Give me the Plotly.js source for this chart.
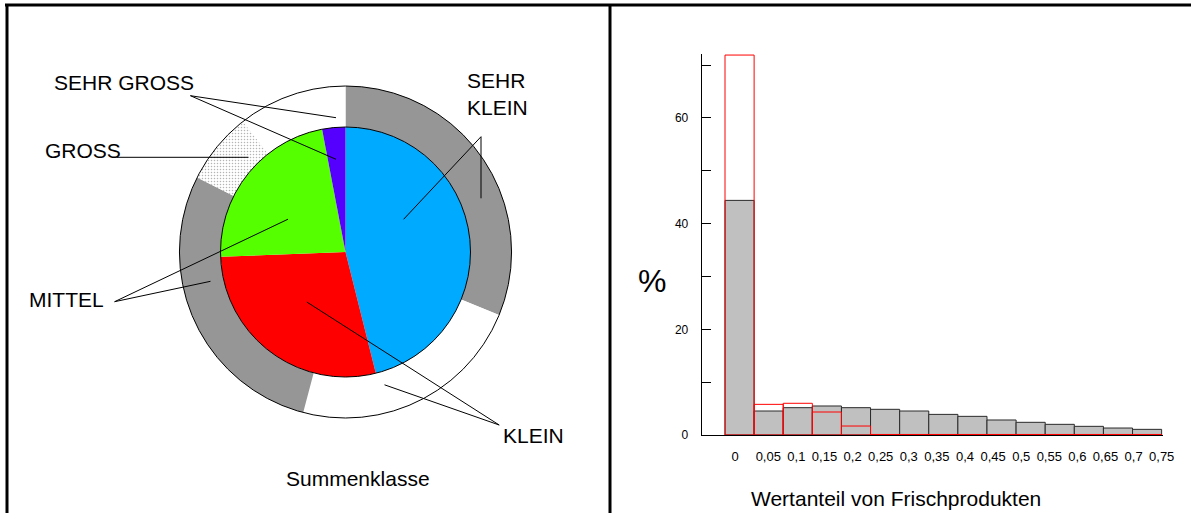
<!DOCTYPE html>
<html>
<head>
<meta charset="utf-8">
<script src="https://cdn.plot.ly/plotly-3.0.1.min.js"></script>
<style>
  html, body { margin: 0; padding: 0; background: #ffffff; }
  #chart { width: 1191px; height: 513px; }
</style>
</head>
<body>
<div id="chart"></div>
<script>
// ---------- data ----------
const categories = ['SEHR KLEIN', 'KLEIN', 'MITTEL', 'GROSS', 'SEHR GROSS'];
const innerShare = [46.1, 28.3, 22.6, 0, 3.0];      // inner pie
const outerShare = [31.2, 22.9, 28.3, 7.0, 10.6];   // outer ring (Summenklasse)

const binStart = [0, 0.05, 0.10, 0.15, 0.20, 0.25, 0.30, 0.35, 0.40, 0.45, 0.50, 0.55, 0.60, 0.65, 0.70];
const grayPct = [44.4, 4.54, 5.17, 5.49, 5.17, 4.86, 4.54, 3.90, 3.53, 2.84, 2.40, 2.02, 1.64, 1.32, 1.07];
const redPct  = [71.9, 5.8, 6.0, 4.35, 1.7, 0.1, 0.1, 0.1, 0.1, 0.1, 0.1, 0.1, 0.1, 0.1, 0.1];
const tickLabels = ['0', '0,05', '0,1', '0,15', '0,2', '0,25', '0,3', '0,35', '0,4', '0,45', '0,5', '0,55', '0,6', '0,65', '0,7', '0,75'];
const yTickValues = [0, 10, 20, 30, 40, 50, 60, 70];
const yTickLabels = ['0', '', '20', '', '40', '', '60', ''];

// ---------- layout helpers (pixel -> paper) ----------
const W = 1191, H = 513;
const px = x => x / W;
const py = y => 1 - y / H;
const FONT = 'Liberation Sans, Arial, Helvetica, sans-serif';

// pie geometry
const cx = 345.5, cy = 252, rOuter = 166, rInner = 125;
const dom = r => ({ x: [px(cx - r), px(cx + r)], y: [py(cy + r), py(cy - r)] });

const innerColors = ['#00aaff', '#ff0000', '#55ff00', '#ffffff', '#5500ff'];
const outerColors = ['#969696', '#ffffff', '#969696', '#ffffff', '#ffffff'];

const traces = [
  {
    type: 'pie', labels: categories, values: outerShare, sort: false, direction: 'clockwise',
    hole: rInner / rOuter, domain: dom(rOuter), textinfo: 'none', hoverinfo: 'none', showlegend: false,
    marker: { colors: outerColors, line: { width: 0 },
      pattern: { shape: ['', '', '', '.', ''], fgcolor: '#b4b4b4', bgcolor: '#ffffff', size: 3, solidity: 0.2 } }
  },
  {
    type: 'pie', labels: categories, values: innerShare, sort: false, direction: 'clockwise',
    domain: dom(rInner), textinfo: 'none', hoverinfo: 'none', showlegend: false,
    marker: { colors: innerColors, line: { width: 0 } }
  },
  { // outline circles of ring and pie
    type: 'pie', labels: ['Summenklasse'], values: [1], hole: rInner / rOuter, domain: dom(rOuter),
    textinfo: 'none', hoverinfo: 'none', showlegend: false,
    marker: { colors: ['rgba(0,0,0,0)'], line: { color: '#000000', width: 1 } }
  },
  {
    type: 'bar', x: binStart, y: grayPct, width: 0.05, offset: 0, hoverinfo: 'none', showlegend: false,
    marker: { color: '#c0c0c0', line: { color: '#2a2a2a', width: 1 } }
  },
  {
    type: 'bar', x: binStart, y: redPct, width: 0.05, offset: 0, hoverinfo: 'none', showlegend: false,
    marker: { color: 'rgba(0,0,0,0)', line: { color: '#ff0000', width: 1 } }
  }
];

// x axis: bar edge 725px <-> 0, 29.11 px per 0.05
const unitPx = 29.11 / 0.05;
const xLeftPx = 701.7, xMin = -(725 - xLeftPx) / unitPx, xMax = 0.752;
const xRightPx = xLeftPx + (xMax - xMin) * unitPx;
const xTickVals = tickLabels.map((t, k) => k === 0 ? (735 - 725) / unitPx : (768.3 - 725) / unitPx + (k - 1) * 28.1 / unitPx);

const lineShape = (x0, y0, x1, y1, w, c) => ({
  type: 'line', xref: 'paper', yref: 'paper', x0: px(x0), y0: py(y0), x1: px(x1), y1: py(y1),
  line: { color: c || '#000000', width: w || 1 }
});

const shapes = [
  // frame
  lineShape(5, 5, 1191, 5, 3),
  lineShape(7, 4, 7, 513, 3),
  lineShape(610, 4, 610, 513, 3),
  // leader lines
  lineShape(190.4, 95.7, 336, 117.7), lineShape(190.4, 95.7, 336, 159.3),
  lineShape(116.5, 157.3, 248.5, 157.3),
  lineShape(114.6, 301.7, 288, 219.2), lineShape(114.6, 301.7, 210.5, 281.3),
  lineShape(499.2, 425, 306.8, 302), lineShape(499.2, 425, 384.5, 384.8),
  lineShape(481, 136.7, 403.6, 219.3), lineShape(481, 136.7, 481, 198.3)
];

const ann = (text, x, y, size, xanchor, align) => ({
  text, xref: 'paper', yref: 'paper', x: px(x), y: py(y), showarrow: false,
  xanchor: xanchor || 'center', yanchor: 'middle', align: align || 'center',
  font: { family: FONT, size: size || 21, color: '#000000' }
});

const annotations = [
  ann('SEHR GROSS', 123.5, 82),
  ann('GROSS', 82.5, 150),
  ann('MITTEL', 66, 299.5),
  ann('KLEIN', 533.6, 435),
  ann('SEHR<br>KLEIN', 465, 94, 21, 'left', 'left'),
  ann('Summenklasse', 357.6, 478),
  ann('%', 652, 281, 32),
  ann('Wertanteil von Frischprodukten', 895.5, 498)
];

const layout = {
  width: W, height: H, margin: { l: 0, r: 0, t: 0, b: 0 },
  paper_bgcolor: '#ffffff', plot_bgcolor: 'rgba(0,0,0,0)',
  font: { family: FONT, color: '#000000' },
  barmode: 'overlay', showlegend: false,
  xaxis: {
    domain: [px(xLeftPx), px(xRightPx)], range: [xMin, xMax],
    showgrid: false, zeroline: false, showline: true, linecolor: '#000000', linewidth: 1,
    ticks: '', tickmode: 'array', tickvals: xTickVals, ticktext: tickLabels,
    tickfont: { family: FONT, size: 13, color: '#000000' }, ticklabelstandoff: 9
  },
  yaxis: {
    domain: [py(435), py(54)], range: [0, 72.1],
    showgrid: false, zeroline: false, showline: true, linecolor: '#000000', linewidth: 1,
    ticks: 'inside', ticklen: 9, tickcolor: '#000000', tickwidth: 1,
    tickmode: 'array', tickvals: yTickValues, ticktext: yTickLabels,
    tickfont: { family: FONT, size: 12, color: '#000000' }, ticklabelstandoff: 10
  },
  shapes, annotations
};

Plotly.newPlot('chart', traces, layout, { staticPlot: true, displayModeBar: false });
</script>
</body>
</html>
